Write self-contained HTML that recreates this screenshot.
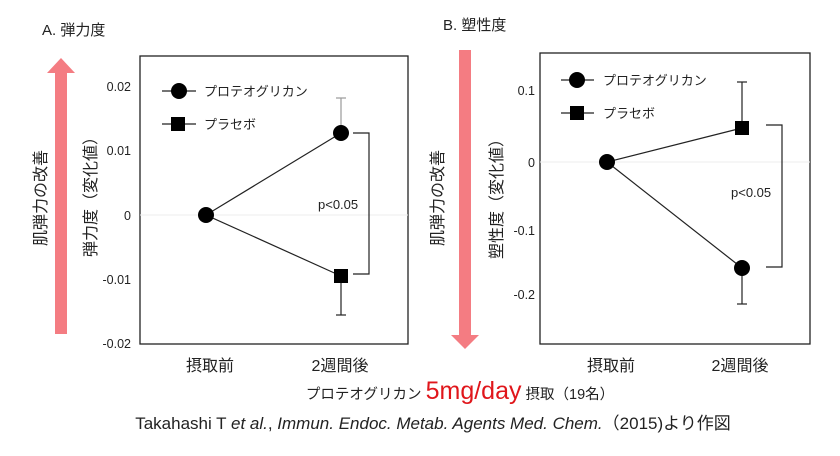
<!DOCTYPE html>
<html><head><meta charset="utf-8"><style>
html,body{margin:0;padding:0;background:#fff;}
svg{display:block;font-family:"Liberation Sans","Noto Sans CJK JP",sans-serif;}
</style></head><body>
<svg width="840" height="456" viewBox="0 0 840 456" xmlns="http://www.w3.org/2000/svg">
<!-- A -->
<text x="42" y="35" font-size="15" fill="#222">A. 弾力度</text>
<rect x="55" y="72" width="12" height="262" fill="#f47c82"/>
<polygon points="47,73 75,73 61,58" fill="#f47c82"/>
<text transform="translate(46,198) rotate(-90)" font-size="16" text-anchor="middle" fill="#222">肌弾力の改善</text>
<text transform="translate(96,193) rotate(-90)" font-size="16" text-anchor="middle" fill="#222">弾力度（変化値）</text>
<rect x="140" y="56" width="268" height="288" fill="none" stroke="#222" stroke-width="1.3"/>
<line x1="140" y1="215" x2="408" y2="215" stroke="#eee"/>
<g font-size="12.5" fill="#222" text-anchor="end">
<text x="131" y="91">0.02</text><text x="131" y="155">0.01</text><text x="131" y="220">0</text><text x="131" y="284">-0.01</text><text x="131" y="348">-0.02</text>
</g>
<line x1="341" y1="98" x2="341" y2="133" stroke="#999" stroke-width="1.2"/><line x1="336" y1="98" x2="346" y2="98" stroke="#999" stroke-width="1.2"/>
<line x1="341" y1="276" x2="341" y2="315" stroke="#222" stroke-width="1.2"/><line x1="336" y1="315" x2="346" y2="315" stroke="#222" stroke-width="1.2"/>
<polyline points="341,133 206,215 341,276" fill="none" stroke="#222" stroke-width="1.2"/>
<circle cx="206" cy="215" r="8" fill="#000"/><circle cx="341" cy="133" r="8" fill="#000"/>
<rect x="334" y="269" width="14" height="14" fill="#000"/>
<polyline points="353,133 369,133 369,274 353,274" fill="none" stroke="#222" stroke-width="1.2"/>
<text x="318" y="209" font-size="13" fill="#222">p&lt;0.05</text>
<line x1="162" y1="91" x2="196" y2="91" stroke="#222" stroke-width="1.2"/><circle cx="179" cy="91" r="8" fill="#000"/>
<line x1="162" y1="124" x2="196" y2="124" stroke="#222" stroke-width="1.2"/><rect x="171" y="117" width="14" height="14" fill="#000"/>
<text x="204" y="96" font-size="13" fill="#222">プロテオグリカン</text>
<text x="204" y="129" font-size="13" fill="#222">プラセボ</text>
<text x="210" y="371" font-size="16" text-anchor="middle" fill="#222">摂取前</text>
<text x="340" y="371" font-size="16" text-anchor="middle" fill="#222">2週間後</text>
<!-- B -->
<text x="443" y="30" font-size="15" fill="#222">B. 塑性度</text>
<rect x="459" y="50" width="12" height="286" fill="#f47c82"/>
<polygon points="451,335 479,335 465,349" fill="#f47c82"/>
<text transform="translate(443,198) rotate(-90)" font-size="16" text-anchor="middle" fill="#222">肌弾力の改善</text>
<text transform="translate(502,195) rotate(-90)" font-size="16" text-anchor="middle" fill="#222">塑性度（変化値）</text>
<rect x="540" y="53" width="270" height="291" fill="none" stroke="#222" stroke-width="1.3"/>
<line x1="540" y1="162" x2="810" y2="162" stroke="#eee"/>
<g font-size="12.5" fill="#222" text-anchor="end">
<text x="535" y="95">0.1</text><text x="535" y="167">0</text><text x="535" y="235">-0.1</text><text x="535" y="299">-0.2</text>
</g>
<line x1="742" y1="82" x2="742" y2="128" stroke="#222" stroke-width="1.2"/><line x1="737" y1="82" x2="747" y2="82" stroke="#222" stroke-width="1.2"/>
<line x1="742" y1="268" x2="742" y2="304" stroke="#222" stroke-width="1.2"/><line x1="737" y1="304" x2="747" y2="304" stroke="#222" stroke-width="1.2"/>
<polyline points="742,128 607,162 742,268" fill="none" stroke="#222" stroke-width="1.2"/>
<circle cx="607" cy="162" r="8" fill="#000"/><circle cx="742" cy="268" r="8" fill="#000"/>
<rect x="735" y="121" width="14" height="14" fill="#000"/>
<polyline points="766,125 782,125 782,267 766,267" fill="none" stroke="#222" stroke-width="1.2"/>
<text x="731" y="197" font-size="13" fill="#222">p&lt;0.05</text>
<line x1="561" y1="80" x2="594" y2="80" stroke="#222" stroke-width="1.2"/><circle cx="577" cy="80" r="8" fill="#000"/>
<line x1="561" y1="113" x2="594" y2="113" stroke="#222" stroke-width="1.2"/><rect x="570" y="106" width="14" height="14" fill="#000"/>
<text x="603" y="85" font-size="13" fill="#222">プロテオグリカン</text>
<text x="603" y="118" font-size="13" fill="#222">プラセボ</text>
<text x="611" y="371" font-size="16" text-anchor="middle" fill="#222">摂取前</text>
<text x="740" y="371" font-size="16" text-anchor="middle" fill="#222">2週間後</text>
<!-- bottom -->
<text x="460" y="399" font-size="14.5" text-anchor="middle" fill="#222">プロテオグリカン <tspan font-size="25" fill="#e0161b">5mg/day</tspan> 摂取（19名）</text>
<text x="433" y="429" font-size="17" text-anchor="middle" fill="#222">Takahashi T <tspan font-style="italic">et al.</tspan>, <tspan font-style="italic">Immun. Endoc. Metab. Agents Med. Chem.</tspan>（2015)より作図</text>
</svg>
</body></html>
